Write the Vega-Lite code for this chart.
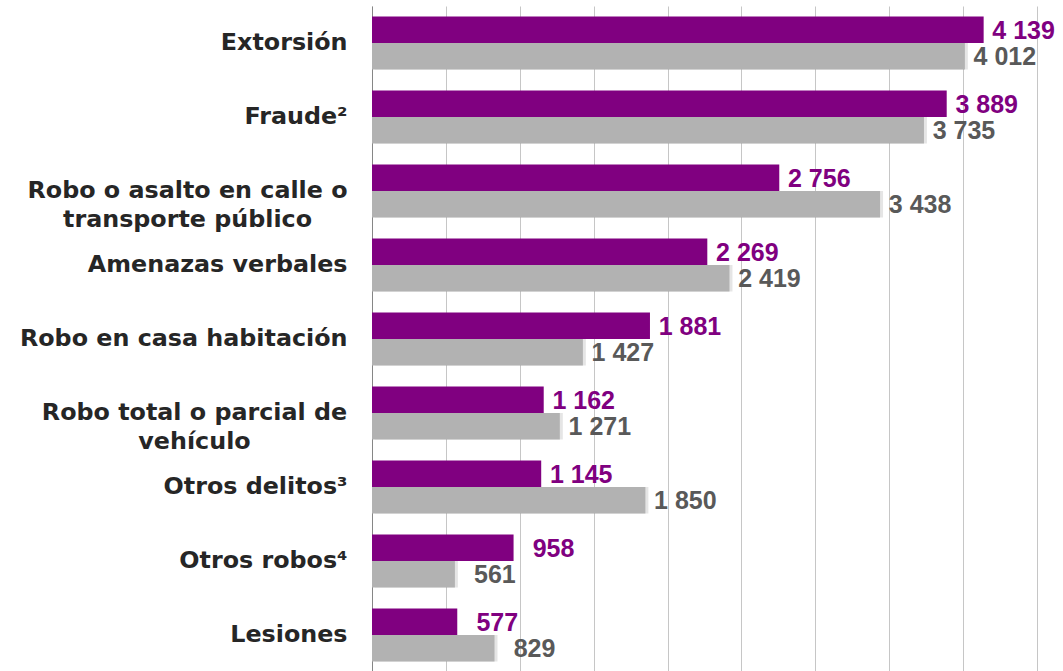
{
  "$schema": "https://vega.github.io/schema/vega-lite/v6.json",
  "width": 665,
  "height": 666,
  "autosize": {"type": "none"},
  "padding": {"left": 372, "top": 6, "right": 26, "bottom": 0},
  "background": "white",
  "config": {
    "view": {"stroke": null}
  },
  "data": {
    "values": [
      {"delito": "Extorsión", "serie": "2021", "valor": 4139},
      {"delito": "Extorsión", "serie": "2019", "valor": 4012},
      {"delito": "Fraude²", "serie": "2021", "valor": 3889},
      {"delito": "Fraude²", "serie": "2019", "valor": 3735},
      {"delito": "Robo o asalto en calle o transporte público", "serie": "2021", "valor": 2756},
      {"delito": "Robo o asalto en calle o transporte público", "serie": "2019", "valor": 3438},
      {"delito": "Amenazas verbales", "serie": "2021", "valor": 2269},
      {"delito": "Amenazas verbales", "serie": "2019", "valor": 2419},
      {"delito": "Robo en casa habitación", "serie": "2021", "valor": 1881},
      {"delito": "Robo en casa habitación", "serie": "2019", "valor": 1427},
      {"delito": "Robo total o parcial de vehículo", "serie": "2021", "valor": 1162},
      {"delito": "Robo total o parcial de vehículo", "serie": "2019", "valor": 1271},
      {"delito": "Otros delitos³", "serie": "2021", "valor": 1145},
      {"delito": "Otros delitos³", "serie": "2019", "valor": 1850},
      {"delito": "Otros robos⁴", "serie": "2021", "valor": 958},
      {"delito": "Otros robos⁴", "serie": "2019", "valor": 561},
      {"delito": "Lesiones", "serie": "2021", "valor": 577},
      {"delito": "Lesiones", "serie": "2019", "valor": 829}
    ]
  },
  "encoding": {
    "y": {
      "field": "delito",
      "type": "nominal",
      "sort": ["Extorsión", "Fraude²", "Robo o asalto en calle o transporte público", "Amenazas verbales", "Robo en casa habitación", "Robo total o parcial de vehículo", "Otros delitos³", "Otros robos⁴", "Lesiones"],
      "scale": {"paddingInner": 0.284, "paddingOuter": 0.142},
      "axis": {
        "title": null,
        "domainColor": "#868686",
        "domainWidth": 1,
        "ticks": false,
        "labelFont": "DejaVu Sans",
        "labelFontWeight": "bold",
        "labelFontSize": 23.8,
        "labelColor": "#262626",
        "labelLimit": 500,
        "labelLineHeight": 29,
        "labelOverlap": false,
        "labelBound": false,
        "labelExpr": "datum.value == 'Robo o asalto en calle o transporte público' ? ['Robo o asalto en calle o', 'transporte público'] : datum.value == 'Robo total o parcial de vehículo' ? ['Robo total o parcial de', 'vehículo'] : datum.value",
        "labelAlign": {"condition": {"test": "indexof(datum.value, 'transporte') >= 0 || indexof(datum.value, 'vehículo') >= 0", "value": "center"}, "value": "right"},
        "labelPadding": {"condition": [
          {"test": "indexof(datum.value, 'transporte') >= 0", "value": 185},
          {"test": "indexof(datum.value, 'vehículo') >= 0", "value": 178}
        ], "value": 25}
      }
    },
    "yOffset": {
      "field": "serie",
      "type": "nominal",
      "sort": ["2021", "2019"]
    },
    "x": {
      "field": "valor",
      "type": "quantitative",
      "scale": {"domain": [0, 4500], "nice": false},
      "axis": {
        "title": null,
        "labels": false,
        "ticks": false,
        "domain": false,
        "grid": true,
        "gridColor": "#c6c6c6",
        "gridWidth": 1,
        "values": [0, 500, 1000, 1500, 2000, 2500, 3000, 3500, 4000, 4500]
      }
    }
  },
  "layer": [
    {
      "transform": [{"filter": "datum.serie === '2019'"}],
      "mark": {"type": "bar", "color": "#000000", "opacity": 0.1, "xOffset": 3, "yOffset": 3}
    },
    {
      "mark": {"type": "bar"},
      "encoding": {
        "color": {"condition": {"test": "datum.serie === '2021'", "value": "#800080"}, "value": "#b2b2b2"}
      }
    },
    {
      "mark": {"type": "text", "align": "center", "baseline": "middle", "dx": 40, "dy": 1, "font": "Liberation Sans", "fontWeight": "bold", "fontSize": 25, "text": {"expr": "replace(format(datum.valor, ','), ',', ' ')"}},
      "encoding": {
        "color": {"condition": {"test": "datum.serie === '2021'", "value": "#800080"}, "value": "#595959"}
      }
    }
  ]
}
